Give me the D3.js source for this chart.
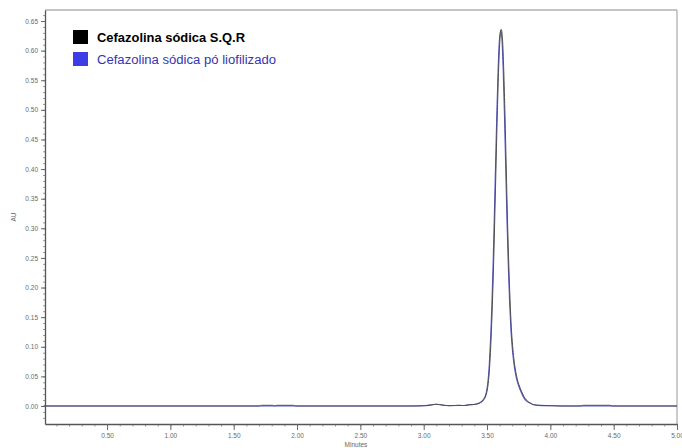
<!DOCTYPE html>
<html>
<head>
<meta charset="utf-8">
<script src="https://cdn.jsdelivr.net/npm/d3@7"></script>
<style>
  html, body { margin: 0; padding: 0; background: #fff; }
  svg { display: block; font-family: "Liberation Sans", Arial, sans-serif; }
</style>
</head>
<body>
<svg id="chart" width="682" height="448"></svg>
<script>
// Series names shown in the legend
const seriesNames = ["Cefazolina sódica S.Q.R", "Cefazolina sódica pó liofilizado"];

// Reference standard trace (minutes, AU)
const refTime = [0.00, 0.50, 1.00, 1.50, 1.70, 1.72, 1.81, 1.82, 1.84, 1.97, 1.99, 2.50, 2.90, 3.00, 3.05, 3.10, 3.15, 3.20, 3.28, 3.32,
  3.362, 3.412, 3.442, 3.472, 3.492, 3.502, 3.512, 3.522, 3.532, 3.542, 3.552, 3.562, 3.572, 3.582, 3.592, 3.602, 3.612,
  3.622, 3.632, 3.642, 3.652, 3.662, 3.672, 3.682, 3.692, 3.702, 3.712, 3.722, 3.732, 3.742, 3.752, 3.772, 3.792, 3.812, 3.842, 3.872, 3.912,
  4.00, 4.10, 4.24, 4.26, 4.47, 4.49, 5.00];
const refAU = [0, 0, 0, 0, 0, 0.0012, 0.0012, 0, 0.0012, 0.0012, 0, 0, 0, 0.0005, 0.0015, 0.003, 0.0015, 0.0005, 0.001, 0.0008,
  0.002, 0.003, 0.005, 0.010, 0.018, 0.027, 0.043, 0.071, 0.113, 0.169, 0.240, 0.324, 0.413, 0.499, 0.571, 0.619, 0.636,
  0.620, 0.567, 0.490, 0.400, 0.312, 0.238, 0.178, 0.132, 0.102, 0.080, 0.064, 0.052, 0.043, 0.036, 0.025, 0.016, 0.010, 0.005, 0.002, 0.001,
  0.0005, 0, 0, 0.0012, 0.0012, 0, 0];

// Lyophilised powder sample trace (minutes, AU)
const sampleTime = [0.00, 0.50, 1.00, 1.50, 2.00, 2.50, 2.90, 3.00, 3.05, 3.10, 3.15, 3.20, 3.28, 3.32,
  3.358, 3.408, 3.438, 3.468, 3.488, 3.498, 3.508, 3.518, 3.528, 3.538, 3.548, 3.558, 3.568, 3.578, 3.588, 3.598, 3.608,
  3.618, 3.628, 3.638, 3.648, 3.658, 3.668, 3.678, 3.688, 3.698, 3.708, 3.718, 3.728, 3.738, 3.748, 3.768, 3.788, 3.808, 3.838, 3.868, 3.908,
  4.00, 4.10, 4.50, 5.00];
const sampleAU = [0, 0, 0, 0, 0, 0, 0, 0.0005, 0.0015, 0.003, 0.0015, 0.0005, 0.001, 0.0008,
  0.002, 0.003, 0.005, 0.010, 0.018, 0.027, 0.043, 0.071, 0.113, 0.169, 0.240, 0.324, 0.413, 0.499, 0.571, 0.619, 0.634,
  0.618, 0.565, 0.488, 0.398, 0.310, 0.236, 0.177, 0.131, 0.101, 0.079, 0.063, 0.051, 0.042, 0.035, 0.024, 0.015, 0.009, 0.005, 0.002, 0.001,
  0.0005, 0, 0, 0];

// Axis ticks
const xTicks = [0.50, 1.00, 1.50, 2.00, 2.50, 3.00, 3.50, 4.00, 4.50, 5.00];
const yTicks = [0.00, 0.05, 0.10, 0.15, 0.20, 0.25, 0.30, 0.35, 0.40, 0.45, 0.50, 0.55, 0.60, 0.65];
const xLabel = "Minutes";
const yLabel = "AU";

const svg = d3.select("#chart");
const plotLeft = 45, plotRight = 677, plotTop = 10, plotBottom = 424;

const x = d3.scaleLinear().domain([0.01, 5.0]).range([plotLeft, plotRight]);
const y = d3.scaleLinear().domain([-0.0304, 0.6686]).range([plotBottom, plotTop]);

// Frame (top and right)
svg.append("line").attr("x1", plotLeft).attr("x2", plotRight).attr("y1", plotTop).attr("y2", plotTop)
  .attr("stroke", "#c4c4c4").attr("stroke-width", 2);
svg.append("line").attr("x1", plotRight).attr("x2", plotRight).attr("y1", plotTop).attr("y2", plotBottom)
  .attr("stroke", "#a8a8a8").attr("stroke-width", 1.2);

// Minor ticks
const xMinor = d3.range(0.1, 5.0001, 0.1);
svg.append("g").attr("transform", `translate(0,${plotBottom})`)
  .call(d3.axisBottom(x).tickValues(xMinor).tickSize(2.5).tickFormat(""))
  .call(g => g.select(".domain").remove())
  .call(g => g.selectAll("line").attr("stroke", "#999"));
const yMinor = d3.range(-0.02, 0.665, 0.01);
svg.append("g").attr("transform", `translate(${plotLeft},0)`)
  .call(d3.axisLeft(y).tickValues(yMinor).tickSize(2).tickFormat(""))
  .call(g => g.select(".domain").remove())
  .call(g => g.selectAll("line").attr("stroke", "#999"));

// Major axes
const xAxis = svg.append("g").attr("transform", `translate(0,${plotBottom})`)
  .call(d3.axisBottom(x).tickValues(xTicks).tickSize(6).tickPadding(3).tickFormat(d3.format(".2f")).tickSizeOuter(0));
const yAxis = svg.append("g").attr("transform", `translate(${plotLeft},0)`)
  .call(d3.axisLeft(y).tickValues(yTicks).tickSize(4).tickPadding(3).tickFormat(d3.format(".2f")).tickSizeOuter(0));
[xAxis, yAxis].forEach(g => {
  g.select(".domain").attr("stroke", "#555").attr("stroke-width", 1.3);
  g.selectAll(".tick line").attr("stroke", "#666");
  g.selectAll(".tick text").attr("fill", "#6a6a6a").attr("font-size", 6.5)
    .attr("font-family", "Liberation Sans, Arial, sans-serif");
});

// Axis titles
svg.append("text").attr("x", (plotLeft + plotRight) / 2 - 5).attr("y", 447)
  .attr("text-anchor", "middle").attr("font-size", 6.5).attr("fill", "#666").text(xLabel);
svg.append("text").attr("transform", "translate(16,217) rotate(-90)")
  .attr("text-anchor", "middle").attr("font-size", 6.5).attr("fill", "#666").text(yLabel);

// Traces
const line = d3.line().x(d => x(d[0])).y(d => y(d[1])).curve(d3.curveMonotoneX);
const sampleData = sampleTime.map((t, i) => [t, sampleAU[i]]);
const refData = refTime.map((t, i) => [t, refAU[i]]);
svg.append("path").datum(sampleData).attr("d", line)
  .attr("fill", "none").attr("stroke", "#5454c8").attr("stroke-width", 1.1);
svg.append("path").datum(refData).attr("d", line)
  .attr("fill", "none").attr("stroke", "#505050").attr("stroke-width", 1);

// Legend
const legend = [
  { name: seriesNames[0], color: "#000", text: "#000", weight: "bold", y: 30, len: 148 },
  { name: seriesNames[1], color: "#3d3de6", text: "#3535b0", weight: "normal", y: 52, len: 179 }
];
legend.forEach(l => {
  svg.append("rect").attr("x", 73).attr("y", l.y).attr("width", 15).attr("height", 14).attr("fill", l.color);
  svg.append("text").attr("x", 97).attr("y", l.y + 12).attr("font-size", 12).attr("font-weight", l.weight)
    .attr("fill", l.text).attr("textLength", l.len).attr("lengthAdjust", "spacingAndGlyphs").text(l.name);
});
</script>
</body>
</html>
